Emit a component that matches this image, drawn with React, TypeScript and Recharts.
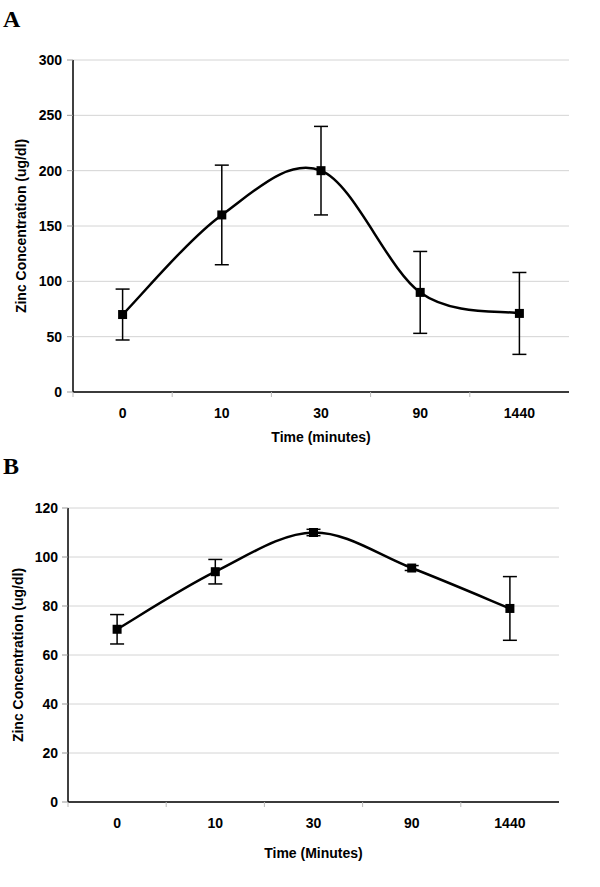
import React from 'react';
import { LineChart, Line, XAxis, YAxis, CartesianGrid, ErrorBar } from 'recharts';

const categories = ['0', '10', '30', '90', '1440'];
const zincA = [70, 160, 200, 90, 71];
const errA = [23, 45, 40, 37, 37];
const ticksA = [0, 50, 100, 150, 200, 250, 300];
const zincB = [70.5, 94, 110, 95.5, 79];
const errB = [6, 5, 1.3, 1, 13];
const ticksB = [0, 20, 40, 60, 80, 100, 120];

const dataA = categories.map((c, i) => ({ t: c, v: zincA[i], e: errA[i] }));
const dataB = categories.map((c, i) => ({ t: c, v: zincB[i], e: errB[i] }));

const FONT = '"Liberation Sans", Arial, sans-serif';

// Excel-like smoothed line (Catmull-Rom to Bezier)
const smoothCurve: any = (context: any) => {
  let xs: number[] = [];
  let ys: number[] = [];
  return {
    areaStart() {},
    areaEnd() {},
    lineStart() {
      xs = [];
      ys = [];
    },
    point(x: number, y: number) {
      xs.push(+x);
      ys.push(+y);
    },
    lineEnd() {
      const n = xs.length;
      if (!n) return;
      context.moveTo(xs[0], ys[0]);
      for (let i = 0; i < n - 1; i++) {
        const i0 = Math.max(i - 1, 0);
        const i3 = Math.min(i + 2, n - 1);
        const c1x = xs[i] + (xs[i + 1] - xs[i0]) / 6;
        const c1y = ys[i] + (ys[i + 1] - ys[i0]) / 6;
        const c2x = xs[i + 1] - (xs[i3] - xs[i]) / 6;
        const c2y = ys[i + 1] - (ys[i3] - ys[i]) / 6;
        context.bezierCurveTo(c1x, c1y, c2x, c2y, xs[i + 1], ys[i + 1]);
      }
    },
  };
};

const SquareDot = (props: any) => {
  const { cx, cy } = props;
  if (cx == null || cy == null) return null;
  const s = 9;
  return <rect x={cx - s / 2} y={cy - s / 2} width={s} height={s} fill="#000" />;
};

const XTick = (props: any) => {
  const { x, y, payload, band, labelDy } = props;
  const bx = x - band / 2;
  return (
    <g>
      <line x1={bx} y1={y} x2={bx} y2={y + 5} stroke="#bbb" strokeWidth={1} />
      <text
        x={x}
        y={y + labelDy}
        textAnchor="middle"
        dominantBaseline="central"
        fontFamily={FONT}
        fontWeight="bold"
        fontSize={14}
        fill="#000"
      >
        {payload.value}
      </text>
    </g>
  );
};

const YTitle = (props: any) => {
  const { viewBox, text, dx } = props;
  const cx = viewBox.x + dx;
  const cy = viewBox.y + viewBox.height / 2;
  return (
    <text
      x={cx}
      y={cy}
      transform={`rotate(-90 ${cx} ${cy})`}
      textAnchor="middle"
      dominantBaseline="central"
      fontFamily={FONT}
      fontWeight="bold"
      fontSize={14}
      fill="#000"
    >
      {text}
    </text>
  );
};

const XTitle = (props: any) => {
  const { viewBox, text, dy } = props;
  const cx = viewBox.x + viewBox.width / 2;
  const cy = viewBox.y + dy;
  return (
    <text
      x={cx}
      y={cy}
      textAnchor="middle"
      dominantBaseline="central"
      fontFamily={FONT}
      fontWeight="bold"
      fontSize={14}
      fill="#000"
    >
      {text}
    </text>
  );
};

interface PanelProps {
  data: any[];
  ticks: number[];
  max: number;
  width: number;
  height: number;
  margin: { top: number; right: number; bottom: number; left: number };
  yWidth: number;
  xHeight: number;
  xTitle: string;
  labelDy: number;
  titleDy: number;
  yTitleDx: number;
  tickSize: number;
  tickMargin: number;
}

const Panel = (p: PanelProps) => {
  const plotW = p.width - p.margin.left - p.margin.right - p.yWidth;
  const band = plotW / categories.length;
  return (
    <LineChart width={p.width} height={p.height} data={p.data} margin={p.margin}>
      <CartesianGrid vertical={false} stroke="#d4d4d4" strokeWidth={1} />
      <XAxis
        dataKey="t"
        type="category"
        height={p.xHeight}
        padding={{ left: band / 2, right: band / 2 }}
        axisLine={{ stroke: '#000', strokeWidth: 1.5 }}
        tickLine={false}
        tickSize={0}
        tickMargin={0}
        interval={0}
        tick={<XTick band={band} labelDy={p.labelDy} />}
        label={<XTitle text={p.xTitle} dy={p.titleDy} />}
      />
      <XAxis
        xAxisId="top"
        dataKey="t"
        orientation="top"
        height={0}
        tick={false}
        tickLine={false}
        axisLine={{ stroke: '#000', strokeWidth: 1.5 }}
      />
      <YAxis
        domain={[0, p.max]}
        ticks={p.ticks}
        width={p.yWidth}
        interval={0}
        axisLine={{ stroke: '#000', strokeWidth: 1.5 }}
        tickLine={{ stroke: '#999' }}
        tickSize={p.tickSize}
        tickMargin={p.tickMargin}
        tick={{ fontFamily: FONT, fontWeight: 'bold', fontSize: 14, fill: '#000' }}
        label={<YTitle text="Zinc Concentration (ug/dl)" dx={p.yTitleDx} />}
      />
      <YAxis
        yAxisId="right"
        orientation="right"
        domain={[0, p.max]}
        width={0}
        tick={false}
        tickLine={false}
        axisLine={{ stroke: '#000', strokeWidth: 1.5 }}
      />
      <Line
        dataKey="v"
        type={smoothCurve}
        stroke="#000"
        strokeWidth={2.5}
        dot={<SquareDot />}
        activeDot={false}
        isAnimationActive={false}
      >
        <ErrorBar dataKey="e" width={7} stroke="#000" strokeWidth={1.5} direction="y" />
      </Line>
    </LineChart>
  );
};

export default function App() {
  return (
    <div style={{ position: 'absolute', left: 0, top: 0, width: 600, height: 887, background: '#fff' }}>
      <div
        style={{
          position: 'absolute',
          left: 3,
          top: 6,
          fontFamily: '"Liberation Serif", "Times New Roman", serif',
          fontWeight: 'bold',
          fontSize: 24,
          lineHeight: '26px',
        }}
      >
        A
      </div>
      <div
        style={{
          position: 'absolute',
          left: 3,
          top: 453,
          fontFamily: '"Liberation Serif", "Times New Roman", serif',
          fontWeight: 'bold',
          fontSize: 24,
          lineHeight: '26px',
        }}
      >
        B
      </div>
      <div style={{ position: 'absolute', left: 0, top: 0 }}>
        <Panel
          data={dataA}
          ticks={ticksA}
          max={300}
          width={600}
          height={450}
          margin={{ top: 60, right: 31, bottom: 0, left: 0 }}
          yWidth={73}
          xHeight={58}
          xTitle="Time (minutes)"
          labelDy={21}
          titleDy={45}
          yTitleDx={21}
          tickSize={6}
          tickMargin={5}
        />
      </div>
      <div style={{ position: 'absolute', left: 0, top: 450 }}>
        <Panel
          data={dataB}
          ticks={ticksB}
          max={120}
          width={600}
          height={437}
          margin={{ top: 58, right: 41, bottom: 0, left: 0 }}
          yWidth={68}
          xHeight={85}
          xTitle="Time (Minutes)"
          labelDy={21}
          titleDy={51}
          yTitleDx={18}
          tickSize={6}
          tickMargin={4}
        />
      </div>
    </div>
  );
}
